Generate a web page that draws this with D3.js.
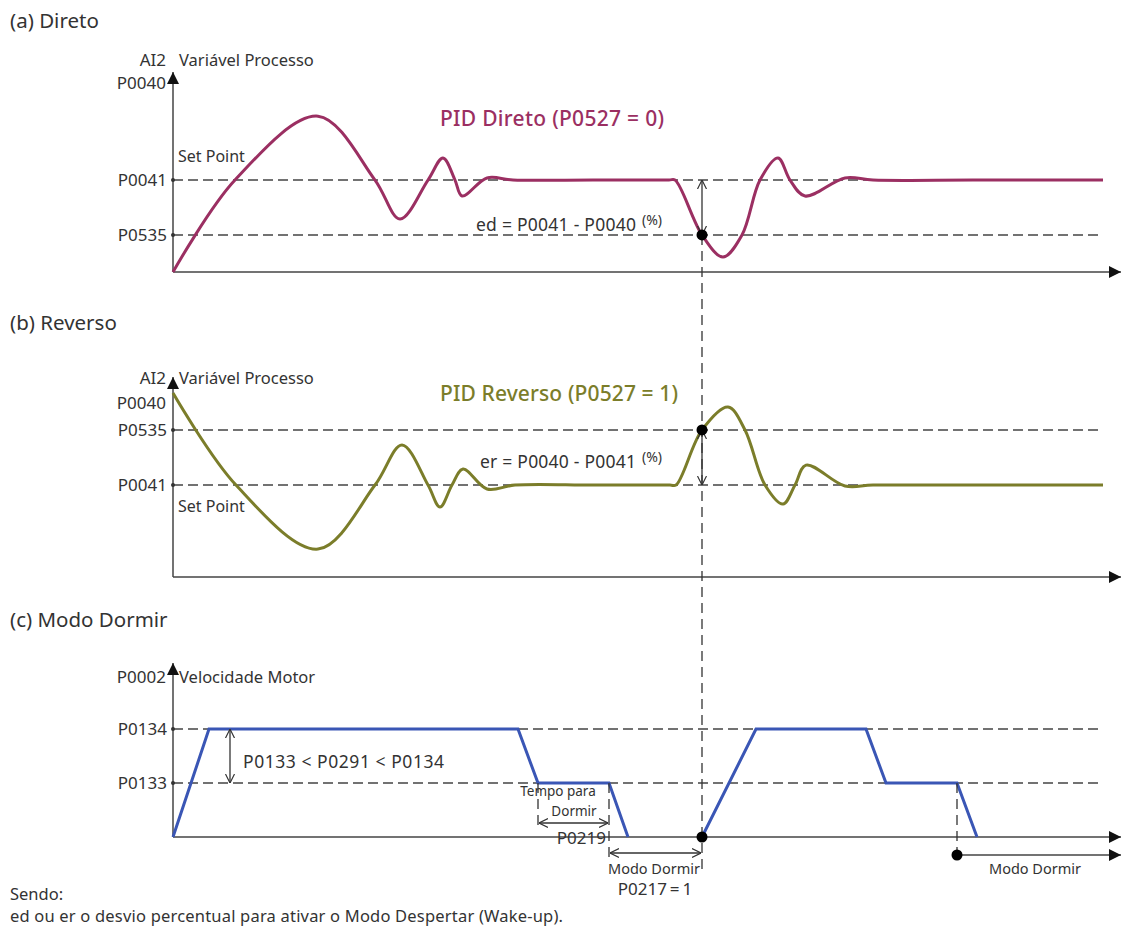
<!DOCTYPE html>
<html>
<head>
<meta charset="utf-8">
<script src="https://cdn.jsdelivr.net/npm/d3@7"></script>
<style>
  body { margin: 0; background: #fff; }
  text { font-family: "Noto Sans", "Open Sans", sans-serif; fill: #333; }
</style>
</head>
<body>
<div id="chart"></div>
<script>
// Data (time units along x, level units 0..100 per panel)
var levelsA = { P0040: 100, P0041: 48.4, P0535: 19.5 };
var levelsB = { P0040: 96.8, P0535: 77.4, P0041: 48.4 };
var levelsC = { P0002: 84.7, P0134: 56.8, P0133: 28.4 };

var curveA = [
  [0, 0], [62, 48.4], [145, 82], [202, 48.4],
  [227, 27.9], [255, 48.4], [270, 60], [282, 48.4], [289, 40], [314, 49.5],
  [340, 48.4], [420, 48.4], [496, 48.4], [502, 48.4], [529, 19.5], [550, 7.9], [569, 19.5],
  [587, 48.4], [605, 60], [617, 48.4], [632, 40], [672, 49.5], [700, 48.4], [800, 48.4],
  [930, 48.4]
];
var curveB = [
  [0, 96.8], [63, 48.4], [145, 14.7],
  [202, 48.4], [229, 69.5], [255, 48.4], [267, 36.8], [279, 48.4], [290, 56.8],
  [314, 46.3], [342, 48.4], [420, 48.4], [497, 48.4], [503, 48.4], [529, 77.4], [555, 89.5],
  [572, 77.4], [592, 48.4], [610, 38.4], [622, 48.4], [633, 58.9], [672, 47.9], [700, 48.4],
  [800, 48.4], [930, 48.4]
];
// motor speed: two separate runs (speed drops to zero while sleeping)
var speedRun1 = [[0, 0], [36, 56.8], [345, 56.8], [365, 28.4], [436, 28.4], [455, 0]];
var speedRun2 = [[529, 0], [583, 56.8], [693, 56.8], [713, 28.4], [784, 28.4], [804, 0]];
var wakeT = 529;      // wake-up instant
var sleepStart = 365; // start of "Tempo para Dormir"
var sleepEnd = 436;
var sleep2 = 784;

var svgWidth = 1123, svgHeight = 926;
var svg = d3.select("#chart").append("svg")
  .attr("width", svgWidth).attr("height", svgHeight);

var defs = svg.append("defs");
defs.append("marker").attr("id", "tri")
  .attr("viewBox", "0 0 10 10").attr("refX", 10).attr("refY", 5)
  .attr("markerWidth", 16).attr("markerHeight", 12).attr("markerUnits", "userSpaceOnUse")
  .attr("orient", "auto")
  .append("path").attr("d", "M0,0 L10,5 L0,10 Z").attr("fill", "#111");
defs.append("marker").attr("id", "vee")
  .attr("viewBox", "0 0 10 10").attr("refX", 10).attr("refY", 5)
  .attr("markerWidth", 9).attr("markerHeight", 14).attr("markerUnits", "userSpaceOnUse")
  .attr("orient", "auto-start-reverse")
  .append("path").attr("d", "M0,0 L10,5 L0,10").attr("fill", "none")
  .attr("stroke", "#333").attr("stroke-width", 1.3);

var x = d3.scaleLinear().domain([0, 940]).range([173, 1113]);
var xEnd = 948;   // axis arrow end
var dashEnd = 930;

function panelScale(axisY) {
  return d3.scaleLinear().domain([0, 100]).range([axisY, axisY - 190]);
}
var yA = panelScale(272), yB = panelScale(577), yC = panelScale(837);

function axes(y, top) {
  svg.append("line").attr("x1", x(0)).attr("x2", x(xEnd))
    .attr("y1", y(0)).attr("y2", y(0))
    .attr("stroke", "#444").attr("stroke-width", 1.5).attr("marker-end", "url(#tri)");
  svg.append("line").attr("x1", x(0)).attr("x2", x(0))
    .attr("y1", y(0)).attr("y2", y(top))
    .attr("stroke", "#444").attr("stroke-width", 1.5).attr("marker-end", "url(#tri)");
}
function dashed(y, v, label) {
  svg.append("line").attr("x1", x(0)).attr("x2", x(dashEnd))
    .attr("y1", y(v)).attr("y2", y(v))
    .attr("stroke", "#444").attr("stroke-width", 1.5).attr("stroke-dasharray", "10,5");
  svg.append("circle").attr("cx", x(0)).attr("cy", y(v)).attr("r", 2).attr("fill", "#333");
  svg.append("text").attr("x", x(0) - 6).attr("y", y(v) + 6)
    .attr("text-anchor", "end").attr("font-size", 17).text(label);
}
function label(px, py, str, size, anchor) {
  return svg.append("text").attr("x", px).attr("y", py)
    .attr("font-size", size || 16).attr("text-anchor", anchor || "start").text(str);
}
function dot(px, py) {
  svg.append("circle").attr("cx", px).attr("cy", py).attr("r", 5.5).attr("fill", "#000");
}
function dblArrow(x1, y1, x2, y2) {
  svg.append("line").attr("x1", x1).attr("y1", y1).attr("x2", x2).attr("y2", y2)
    .attr("stroke", "#333").attr("stroke-width", 1.3)
    .attr("marker-start", "url(#vee)").attr("marker-end", "url(#vee)");
}
function vdash(px, y1, y2) {
  svg.append("line").attr("x1", px).attr("x2", px).attr("y1", y1).attr("y2", y2)
    .attr("stroke", "#333").attr("stroke-width", 1.3).attr("stroke-dasharray", "10,6");
}
var lineGen = function (ys) {
  return d3.line().x(d => x(d[0])).y(d => ys(d[1])).curve(d3.curveCatmullRom.alpha(0.5));
};

// ---------- (a) Direto
label(10, 28, "(a) Direto", 20.5);
axes(yA, 105.3);
dashed(yA, levelsA.P0041, "P0041");
dashed(yA, levelsA.P0535, "P0535");
label(x(0) - 7, 66, "AI2", 17, "end");
label(x(0) - 7, 89, "P0040", 17, "end");
label(x(0) + 6, 66, "Variável Processo", 16.5);
label(x(0) + 5, 162, "Set Point", 16);
label(440, 126, "PID Direto (P0527 = 0)", 21).attr("font-weight", 500)
  .attr("textLength", 224).style("fill", "#9b2f62");

svg.append("path").datum(curveA).attr("d", lineGen(yA))
  .attr("fill", "none").attr("stroke", "#9b2f62").attr("stroke-width", 3);

label(476, 231, "ed = P0041 - P0040", 17.5).attr("textLength", 160);
label(642, 225, "(%)", 14);
dblArrow(x(wakeT), yA(levelsA.P0041), x(wakeT), yA(levelsA.P0535));

// ---------- (b) Reverso
label(10, 330, "(b) Reverso", 20.5);
axes(yB, 105.3);
dashed(yB, levelsB.P0535, "P0535");
dashed(yB, levelsB.P0041, "P0041");
label(x(0) - 7, 384, "AI2", 17, "end");
label(x(0) - 7, 409, "P0040", 17, "end");
label(x(0) + 6, 384, "Variável Processo", 16.5);
label(x(0) + 5, 512, "Set Point", 16);
label(440, 401, "PID Reverso (P0527 = 1)", 21).attr("font-weight", 500)
  .attr("textLength", 238).style("fill", "#7b7d2a");

svg.append("path").datum(curveB).attr("d", lineGen(yB))
  .attr("fill", "none").attr("stroke", "#7b7d2a").attr("stroke-width", 3);

label(480, 468, "er = P0040 - P0041", 17.5).attr("textLength", 156);
label(642, 462, "(%)", 14);
dblArrow(x(wakeT), yB(levelsB.P0535), x(wakeT), yB(levelsB.P0041));

// ---------- (c) Modo Dormir
label(10, 627, "(c) Modo Dormir", 20.5);
axes(yC, 91.6);
dashed(yC, levelsC.P0134, "P0134");
dashed(yC, levelsC.P0133, "P0133");
label(x(0) - 7, 683, "P0002", 17, "end");
label(x(0) + 6, 683, "Velocidade Motor", 16.5);

[speedRun1, speedRun2].forEach(function (run) {
  svg.append("path").datum(run)
    .attr("d", d3.line().x(d => x(d[0])).y(d => yC(d[1])))
    .attr("fill", "none").attr("stroke", "#3a56b5").attr("stroke-width", 3);
});

dblArrow(x(57), yC(levelsC.P0134), x(57), yC(levelsC.P0133));
label(243, 768, "P0133 < P0291 < P0134", 17.5).attr("textLength", 201);

// Tempo para Dormir
vdash(x(sleepStart), yC(levelsC.P0133), yC(0) - 6);
vdash(x(sleepEnd), yC(levelsC.P0133), yC(0) + 24);
dblArrow(x(sleepStart) + 1, 823, x(sleepEnd) - 1, 823);
label(558, 796, "Tempo para", 13.5, "middle");
label(574, 816, "Dormir", 13.5, "middle");
label(606, 844, "P0219", 17, "end");

// Modo Dormir (first)
dblArrow(x(sleepEnd) + 1, 853, x(wakeT) - 1, 853);
label(654, 874, "Modo Dormir", 14.5, "middle");
var p217 = label(655, 895, "", 17, "middle");
p217.append("tspan").text("P0217");
p217.append("tspan").attr("dx", 3).text("=");
p217.append("tspan").attr("dx", 3).text("1");

// wake-up vertical line through all panels
vdash(x(wakeT), yA(levelsA.P0535), 872);
dot(x(wakeT), yA(levelsA.P0535));
dot(x(wakeT), yB(levelsB.P0535));
dot(x(wakeT), yC(0));

// second sleep
vdash(x(sleep2), yC(levelsC.P0133), 855);
svg.append("line").attr("x1", x(sleep2)).attr("x2", x(xEnd))
  .attr("y1", 855).attr("y2", 855)
  .attr("stroke", "#444").attr("stroke-width", 1.5).attr("marker-end", "url(#tri)");
dot(x(sleep2), 855);
label(1035, 874, "Modo Dormir", 14.5, "middle");

// footnote
label(10, 900, "Sendo:", 16.5);
label(10, 922, "ed ou er o desvio percentual para ativar o Modo Despertar (Wake-up).", 16.5)
  .attr("textLength", 553);
</script>
</body>
</html>
